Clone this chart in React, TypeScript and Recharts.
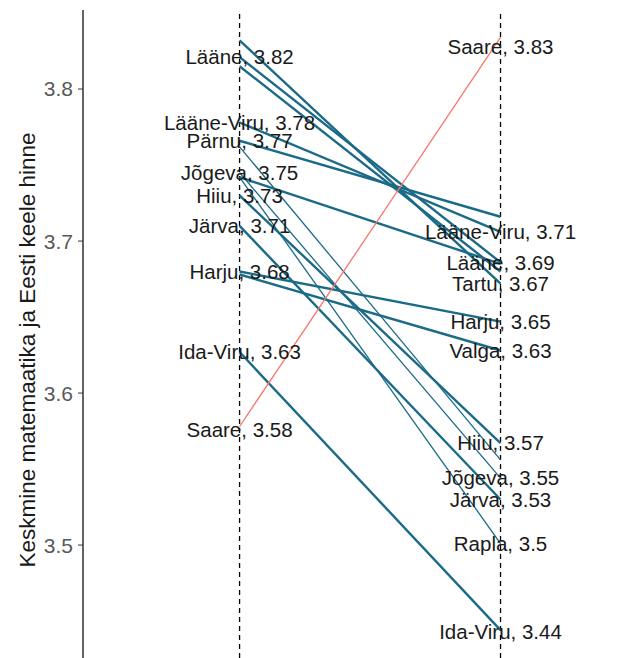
import React from 'react'
import {
  ComposedChart,
  Line,
  Scatter,
  XAxis,
  YAxis,
  ReferenceLine,
} from 'recharts'

// county slopes: left value -> right value
const counties = [
  'Tartu', 'Lääne', 'Viljandi', 'Lääne-Viru', 'Pärnu', 'Põlva', 'Harju', 'Valga',
  'Hiiu', 'Võru', 'Jõgeva', 'Järva', 'Rapla', 'Ida-Viru', 'Saare',
]
const leftValues = [3.832, 3.821, 3.815, 3.778, 3.766, 3.742, 3.680, 3.678, 3.730, 3.762, 3.745, 3.710, 3.742, 3.627, 3.578]
const rightValues = [3.672, 3.686, 3.680, 3.706, 3.716, 3.685, 3.647, 3.628, 3.567, 3.556, 3.544, 3.530, 3.501, 3.444, 3.834]
const thick = [true, true, true, true, true, true, true, true, true, false, false, true, false, true, false]

// labels that survive the overlap check (placed at the unrounded value)
const leftLabels = [
  { y: 3.821, t: 'Lääne, 3.82' },
  { y: 3.778, t: 'Lääne-Viru, 3.78' },
  { y: 3.766, t: 'Pärnu, 3.77' },
  { y: 3.745, t: 'Jõgeva, 3.75' },
  { y: 3.730, t: 'Hiiu, 3.73' },
  { y: 3.710, t: 'Järva, 3.71' },
  { y: 3.680, t: 'Harju, 3.68' },
  { y: 3.627, t: 'Ida-Viru, 3.63' },
  { y: 3.576, t: 'Saare, 3.58' },
]
const rightLabels = [
  { y: 3.828, t: 'Saare, 3.83' },
  { y: 3.706, t: 'Lääne-Viru, 3.71' },
  { y: 3.686, t: 'Lääne, 3.69' },
  { y: 3.672, t: 'Tartu, 3.67' },
  { y: 3.647, t: 'Harju, 3.65' },
  { y: 3.628, t: 'Valga, 3.63' },
  { y: 3.567, t: 'Hiiu, 3.57' },
  { y: 3.544, t: 'Jõgeva, 3.55' },
  { y: 3.530, t: 'Järva, 3.53' },
  { y: 3.501, t: 'Rapla, 3.5' },
  { y: 3.443, t: 'Ida-Viru, 3.44' },
]
const yTicks = [3.5, 3.6, 3.7, 3.8]

const FONT = '"Liberation Sans", Arial, sans-serif'
const TEAL = '#1b6a87'

const labelShape = (props: any) => (
  <text
    x={props.cx}
    y={props.cy}
    dy="0.35em"
    textAnchor="middle"
    fontSize={20.5}
    fontFamily={FONT}
    fill="#1a1a1a"
  >
    {props.payload.t}
  </text>
)

export default function App() {
  const leftPts = leftLabels.map((d) => ({ x: 0, y: d.y, t: d.t }))
  const rightPts = rightLabels.map((d) => ({ x: 1, y: d.y, t: d.t }))
  return (
    <div style={{ position: 'absolute', left: 0, top: 0, width: 642, height: 658, background: '#fff' }}>
      <ComposedChart width={642} height={658} margin={{ top: 10, right: 11, bottom: 0, left: 0 }}>
        <XAxis type="number" dataKey="x" domain={[-0.6, 1.5]} hide allowDataOverflow />
        <YAxis
          type="number"
          dataKey="y"
          domain={[3.4257, 3.852]}
          ticks={yTicks}
          width={83}
          allowDataOverflow
          axisLine={{ stroke: '#222', strokeWidth: 1.4 }}
          tickLine={{ stroke: '#333' }}
          tickSize={5}
          tickMargin={5}
          tick={{ fontSize: 21, fill: '#595959', fontFamily: FONT }}
          tickFormatter={(v) => v.toFixed(1)}
        />
        <Scatter data={leftPts} dataKey="y" shape={labelShape} isAnimationActive={false} />
        <Scatter data={rightPts} dataKey="y" shape={labelShape} isAnimationActive={false} />
        <ReferenceLine x={0} stroke="#000" strokeDasharray="5 4" strokeWidth={1.3} />
        <ReferenceLine x={1} stroke="#000" strokeDasharray="5 4" strokeWidth={1.3} />
        {counties.map((c, i) => (
          <Line
            key={c}
            data={[
              { x: 0, y: leftValues[i] },
              { x: 1, y: rightValues[i] },
            ]}
            dataKey="y"
            type="linear"
            stroke={c === 'Saare' ? '#F8766D' : TEAL}
            strokeWidth={thick[i] ? 2.4 : 1.3}
            dot={false}
            activeDot={false}
            isAnimationActive={false}
          />
        ))}
      </ComposedChart>
      <svg width={60} height={658} style={{ position: 'absolute', left: 0, top: 0 }}>
        <text
          transform="translate(27,350) rotate(-90)"
          textAnchor="middle"
          dy="0.35em"
          fontSize={22.5}
          fontFamily={FONT}
          fill="#1a1a1a"
        >
          Keskmine matemaatika ja Eesti keele hinne
        </text>
      </svg>
    </div>
  )
}
